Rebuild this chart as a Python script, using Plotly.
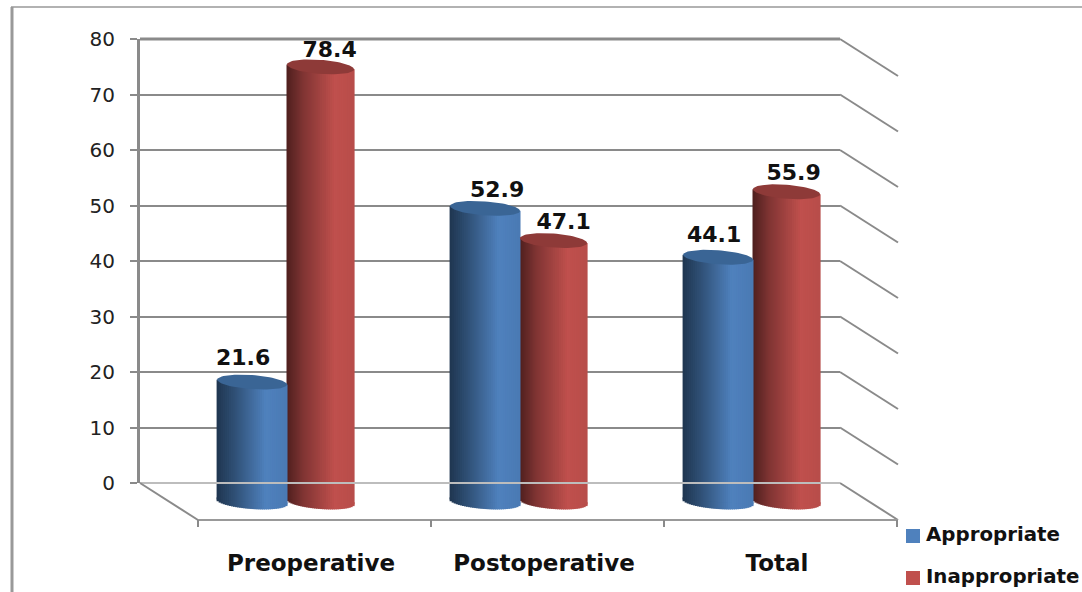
import math
import plotly.graph_objects as go

# Chart data
categories = ["Preoperative", "Postoperative", "Total"]
appropriate = [21.6, 52.9, 44.1]
inappropriate = [78.4, 47.1, 55.9]
y_ticks = [0, 10, 20, 30, 40, 50, 60, 70, 80]

# Page and axis geometry (pixels)
W, H = 1082, 592
PLOT_L, PLOT_R, PLOT_T, PLOT_B = 140, 840, 39, 483
PX_PER_CAT = 233.0
PX_PER_VAL = (PLOT_B - PLOT_T) / 80.0
GROUP0_PX = 287.0
BAR_FOOT_PX = 502.0


def cat_at(px):
    return (px - GROUP0_PX) / PX_PER_CAT


def val_at(py):
    return (BAR_FOOT_PX - py) / PX_PER_VAL


xr = [cat_at(PLOT_L), cat_at(PLOT_R)]
foot_shift = (BAR_FOOT_PX - PLOT_B) / PX_PER_VAL  # wall value -> cylinder value

# Pseudo-3D box depth
DEPTH_X = 58 / PX_PER_CAT
DEPTH_Y = 37 / PX_PER_VAL
GRID = "#8a8a8a"

# Cylinder shape
ELL_B = 7.0 / PX_PER_VAL
ELL_T = 2.5 / PX_PER_VAL
N_STRIPS = 34

BLUE_STOPS = [(0, "#1f3550"), (0.25, "#2f4f74"), (0.7, "#4f81bd"), (1, "#4a7ab4")]
RED_STOPS = [(0, "#4e1f1e"), (0.25, "#803433"), (0.72, "#c0504d"), (1, "#b84d4a")]


def shade(stops, f):
    for (a, ca), (b, cb) in zip(stops, stops[1:]):
        if f <= b:
            k = (f - a) / (b - a)
            pa = [int(ca[i:i + 2], 16) for i in (1, 3, 5)]
            pb = [int(cb[i:i + 2], 16) for i in (1, 3, 5)]
            return "#%02x%02x%02x" % tuple(round(p + (q - p) * k) for p, q in zip(pa, pb))
    return stops[-1][1]


def cylinder_traces(name, values, offset, half, stops, cap_color):
    """Side of each cylinder as gradient strips, with a sheared base and a top cap."""
    xs, ys, bases, cols, fx, fy, fb, fc = [], [], [], [], [], [], [], []
    step = 2 * half / N_STRIPS
    for i, v in enumerate(values):
        for s in range(N_STRIPS):
            u = -1 + (2 * s + 1) / N_STRIPS
            x = i + offset + u * half
            col = shade(stops, (u + 1) / 2)
            xs.append(x)
            ys.append(v)
            bases.append(-ELL_T * u)
            cols.append(col)
            drop = ELL_B * math.sqrt(max(0, 1 - u * u))
            fx.append(x)
            fy.append(drop + 0.4)  # tucks under the side so no seam shows
            fb.append(-ELL_T * u - drop)
            fc.append(col)
    common = dict(width=step * 1.5, xaxis="x2", yaxis="y2", showlegend=False, hoverinfo="skip",
                  marker_line_width=0)
    out = [
        go.Bar(x=fx, y=fy, base=fb, marker_color=fc, name=name + " base", **common),
        go.Bar(x=xs, y=ys, base=bases, marker_color=cols, name=name, **common),
    ]
    for i, v in enumerate(values):
        px, py = [], []
        for k in range(73):
            th = 2 * math.pi * k / 72
            px.append(i + offset + half * math.cos(th))
            py.append(v - ELL_T * math.cos(th) + ELL_B * math.sin(th))
        out.append(go.Scatter(x=px, y=py, xaxis="x2", yaxis="y2", mode="lines", fill="toself",
                              fillcolor=cap_color, line=dict(width=0), showlegend=False,
                              hoverinfo="skip"))
    return out


def segment(xa, ya, xb, yb, color=GRID, width=2):
    """Line given in wall values, drawn on the overlay axes."""
    return go.Scatter(x=[xa, xb], y=[ya + foot_shift, yb + foot_shift], xaxis="x2", yaxis="y2",
                      mode="lines", showlegend=False, hoverinfo="skip",
                      line=dict(color=color, width=width))


fig = go.Figure()

# Keeps the tick-bearing wall axes alive
fig.add_trace(go.Scatter(x=[None], y=[None], mode="markers", showlegend=False, hoverinfo="skip"))

# Side wall, floor and front tick marks
for t in y_ticks:
    fig.add_trace(segment(xr[1], t, xr[1] + DEPTH_X, t - DEPTH_Y))
fig.add_trace(segment(xr[0], 0, xr[1], 0, color="#bdbdbd"))
fig.add_trace(segment(xr[0], 80, xr[1], 80, width=3))
fig.add_trace(segment(xr[0], 0, xr[0] + DEPTH_X, -DEPTH_Y))
fig.add_trace(segment(xr[0] + DEPTH_X, -DEPTH_Y, xr[1] + DEPTH_X, -DEPTH_Y, color="#999999"))
for k in range(4):
    fx0 = xr[0] + DEPTH_X + k
    fig.add_trace(segment(fx0, -DEPTH_Y, fx0, -DEPTH_Y - 7 / PX_PER_VAL))

# Cylinders: the red series sits behind the blue one
for tr in cylinder_traces("Inappropriate", inappropriate, 0.144, 0.144, RED_STOPS, "#8e3a38"):
    fig.add_trace(tr)
for tr in cylinder_traces("Appropriate", appropriate, -0.150, 0.150, BLUE_STOPS, "#3a6595"):
    fig.add_trace(tr)

# Value labels, nudged clear of the caps
label_dx_px = [[-9, 12, -4], [9, 10, 7]]
label_dy_px = [[23, 17, 21], [15, 17, 17]]
for series, dxs, dys, off in ((appropriate, label_dx_px[0], label_dy_px[0], -0.150),
                              (inappropriate, label_dx_px[1], label_dy_px[1], 0.144)):
    fig.add_trace(go.Scatter(
        x=[i + off + dxs[i] / PX_PER_CAT for i in range(3)],
        y=[series[i] + dys[i] / PX_PER_VAL for i in range(3)],
        xaxis="x2", yaxis="y2", mode="text", text=[f"{v:.1f}" for v in series],
        textposition="middle center",
        textfont=dict(family="DejaVu Sans", size=22, color="#111111", weight="bold"),
        showlegend=False, hoverinfo="skip"))

# Key at the lower right
for name, color, py in (("Appropriate", "#4f81bd", 536), ("Inappropriate", "#c0504d", 578)):
    fig.add_trace(go.Scatter(
        x=[cat_at(913)], y=[val_at(py)], xaxis="x2", yaxis="y2", mode="markers",
        marker=dict(symbol="square", size=14, color=color),
        name=name, showlegend=False, hoverinfo="skip"))
    fig.add_trace(go.Scatter(
        x=[cat_at(926)], y=[val_at(py)], xaxis="x2", yaxis="y2", mode="text",
        text=[name], textposition="middle right",
        textfont=dict(family="DejaVu Sans", size=19.8, color="#111111", weight="bold"),
        name=name, showlegend=False, hoverinfo="skip"))

fig.update_layout(
    width=W, height=H, autosize=False,
    margin=dict(l=0, r=0, t=0, b=0, pad=0),
    paper_bgcolor="white", plot_bgcolor="rgba(0,0,0,0)",
    barmode="overlay", showlegend=False,
    xaxis=dict(domain=[PLOT_L / W, PLOT_R / W], range=xr, tickmode="array",
               tickvals=[i + 0.103 for i in range(3)], ticktext=categories, automargin=False,
               showgrid=False, zeroline=False, showline=False, ticks="", ticklabelstandoff=64,
               tickfont=dict(family="DejaVu Sans", size=23, color="#111111", weight="bold")),
    yaxis=dict(domain=[1 - PLOT_B / H, 1 - PLOT_T / H], range=[0, 80], tickmode="array", tickvals=y_ticks,
               automargin=False, showgrid=True, gridcolor=GRID, gridwidth=2, zeroline=False,
               showline=True, linecolor=GRID, linewidth=3, ticks="outside", ticklen=7,
               tickwidth=2, tickcolor=GRID, ticklabelstandoff=11,
               tickfont=dict(family="DejaVu Sans", size=20, color="#222222")),
    xaxis2=dict(domain=[0, 1], anchor="y2", range=[cat_at(0), cat_at(W)], visible=False),
    yaxis2=dict(domain=[0, 1], anchor="x2", range=[val_at(H), val_at(0)], visible=False),
    shapes=[
        dict(type="line", xref="paper", yref="paper", layer="below",
             x0=12 / W, x1=12 / W, y0=1 - 7 / H, y1=0, line=dict(color="#999999", width=3)),
        dict(type="line", xref="paper", yref="paper", layer="below",
             x0=11 / W, x1=1, y0=1 - 7 / H, y1=1 - 7 / H, line=dict(color="#999999", width=1.5)),
    ],
)

fig.write_html("out.html", config=dict(displayModeBar=False))
